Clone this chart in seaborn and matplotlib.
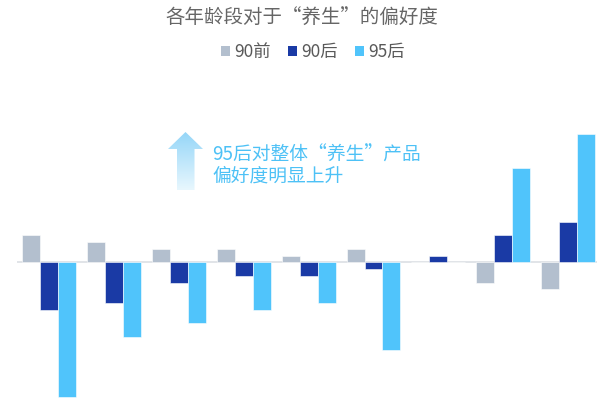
import numpy as np
import pandas as pd
import seaborn as sns
import matplotlib.pyplot as plt
from matplotlib.patches import Polygon, Patch

# ─── data ────────────────────────────────────────────────────────────────
groups = ["组1", "组2", "组3", "组4", "组5", "组6", "组7", "组8", "组9"]
series = ["90前", "90后", "95后"]
v_90qian = [4, 3, 2, 2, 1, 2, 0, -3, -4]
v_90hou = [-7, -6, -3, -2, -2, -1, 1, 4, 6]
v_95hou = [-20, -11, -9, -7, -6, -13, 0, 14, 19]
colors = ["#b3bfce", "#1a3aa5", "#50c4fb"]

title = "各年龄段对于“养生”的偏好度"
note_lines = ["95后对整体“养生”产品", "偏好度明显上升"]

df = pd.DataFrame({
    "group": groups * 3,
    "series": np.repeat(series, len(groups)),
    "value": v_90qian + v_90hou + v_95hou,
})

# ─── plot ────────────────────────────────────────────────────────────────
sns.set_style("white")
plt.rcParams["font.family"] = ["Noto Sans CJK SC", "DejaVu Sans"]

fig = plt.figure(figsize=(6, 4), dpi=100)
ax = fig.add_axes([0, 0, 1, 1])
sns.barplot(
    data=df, x="group", y="value", hue="series",
    order=groups, hue_order=series, palette=colors, saturation=1,
    width=0.83, edgecolor="white", linewidth=0.4,
    legend=False, ax=ax,
)
ax.hlines(0, -0.5, 8.45, color="#dcdfe4", lw=1.2, zorder=0)
ax.set_xlim(-0.755, 8.49)
ax.set_ylim(-20.4, 38.86)
ax.axis("off")

fig.text(0.503, 0.957, title, ha="center", va="center",
         fontsize=14, color="#666666")

handles = [Patch(facecolor=c, edgecolor="none", label=s) for c, s in zip(colors, series)]
fig.legend(handles=handles, loc="center", bbox_to_anchor=(0.522, 0.87), ncol=3,
           frameon=False, fontsize=12.5, handlelength=0.5, handleheight=0.5,
           handletextpad=0.25, columnspacing=1.0, labelcolor="#595959")

# ─── annotation with gradient arrow (pixel coords overlay) ───────────────
ov = fig.add_axes([0, 0, 1, 1], zorder=5)
ov.axis("off")
arrow = Polygon([(185.5, 132), (203, 149), (194.5, 149), (194.5, 190),
                 (177, 190), (177, 149), (168, 149)], closed=True,
                facecolor="none", edgecolor="none")
ov.add_patch(arrow)
grad = np.linspace(0, 1, 100).reshape(-1, 1)
top = np.array([0x95, 0xd6, 0xf8]) / 255
bot = np.array([0xe8, 0xf7, 0xfe]) / 255
img = top + (bot - top) * grad[..., None]
im = ov.imshow(img, extent=[168, 203, 190, 132], aspect="auto", interpolation="bilinear")
im.set_clip_path(arrow)
ov.set_xlim(0, 600)
ov.set_ylim(400, 0)

ov.text(212, 155, note_lines[0], ha="left", va="center", fontsize=13.5, color="#4dc1f6")
ov.text(212, 176, note_lines[1], ha="left", va="center", fontsize=13.5, color="#4dc1f6")

fig.savefig("out.png", dpi=100, facecolor="white")
